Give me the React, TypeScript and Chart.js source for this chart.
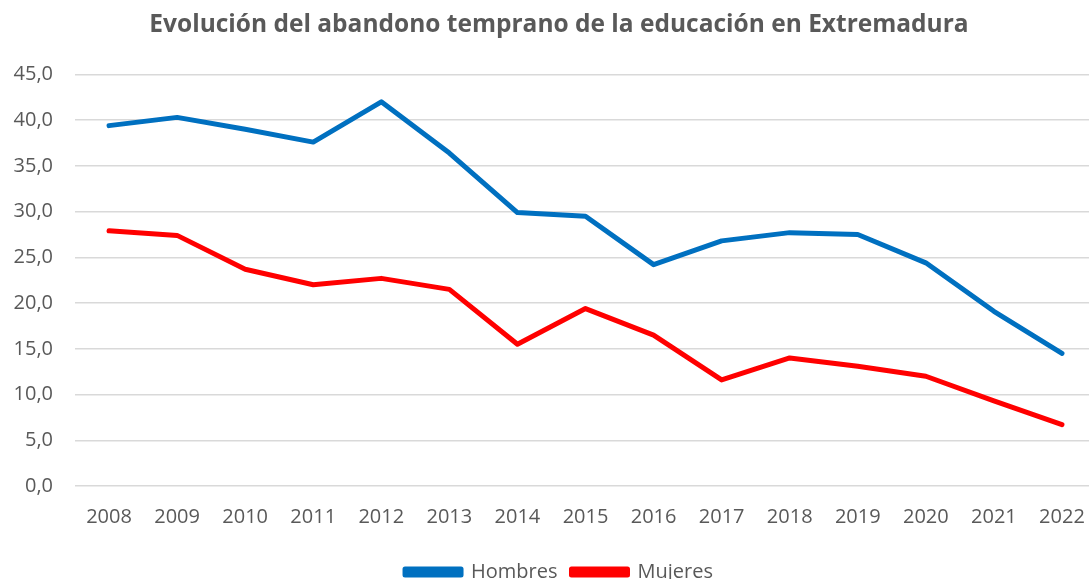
import React, { useEffect, useRef } from "react";
import { Chart, registerables } from "chart.js";

Chart.register(...registerables);

const years = ["2008","2009","2010","2011","2012","2013","2014","2015","2016","2017","2018","2019","2020","2021","2022"];
const hombres = [39.4, 40.3, 39.0, 37.6, 42.0, 36.4, 29.9, 29.5, 24.2, 26.8, 27.7, 27.5, 24.4, 19.1, 14.5];
const mujeres = [27.9, 27.4, 23.7, 22.0, 22.7, 21.5, 15.5, 19.4, 16.5, 11.6, 14.0, 13.1, 12.0, 9.3, 6.7];
const titleText = "Evolución del abandono temprano de la educación en Extremadura";

const FONT = "'Open Sans', 'Liberation Sans', sans-serif";
const GREY = "#595959";

export default function App() {
  const ref = useRef<HTMLCanvasElement | null>(null);
  useEffect(() => {
    if (!ref.current) return;
    const chart = new Chart(ref.current, {
      type: "line",
      data: {
        labels: years,
        datasets: [
          { label: "Hombres", data: hombres, borderColor: "#0070C0", backgroundColor: "#0070C0", borderWidth: 5, pointRadius: 0, tension: 0, borderCapStyle: "round", borderJoinStyle: "round" },
          { label: "Mujeres", data: mujeres, borderColor: "#FF0000", backgroundColor: "#FF0000", borderWidth: 5, pointRadius: 0, tension: 0, borderCapStyle: "round", borderJoinStyle: "round" },
        ],
      },
      options: {
        animation: false,
        responsive: false,
        maintainAspectRatio: false,
        layout: { padding: { left: 22, right: 22, top: 10, bottom: 0 } },
        plugins: {
          title: { display: true, text: titleText, color: GREY, font: { family: FONT, size: 24.5, weight: "bold" }, padding: { top: 0, bottom: 35 } },
          legend: {
            position: "bottom",
            labels: { color: GREY, font: { family: FONT, size: 20 }, boxWidth: 56, boxHeight: 6, padding: 14 },
          },
          tooltip: { enabled: false },
        },
        scales: {
          x: {
            offset: true,
            grid: { display: false, drawTicks: false },
            border: { display: false },
            ticks: { color: GREY, font: { family: FONT, size: 20 }, padding: 19 },
          },
          y: {
            min: 0,
            max: 45,
            grid: { color: "#D9D9D9", lineWidth: 1.5, drawTicks: false },
            border: { display: false },
            afterFit: (s: any) => {
              s.width = 53;
              s._computeLabelArea = () => undefined;
            },
            ticks: {
              stepSize: 5,
              color: GREY,
              font: { family: FONT, size: 20 },
              padding: 22,
              callback: (v: any) => Number(v).toFixed(1).replace(".", ","),
            },
          },
        },
      },
    });
    return () => chart.destroy();
  }, []);
  return (
    <div style={{ position: "fixed", left: 0, top: 0, width: 1089, height: 579, overflow: "hidden", background: "#fff" }}>
      <canvas ref={ref} width={1118} height={592} style={{ display: "block" }} />
    </div>
  );
}
